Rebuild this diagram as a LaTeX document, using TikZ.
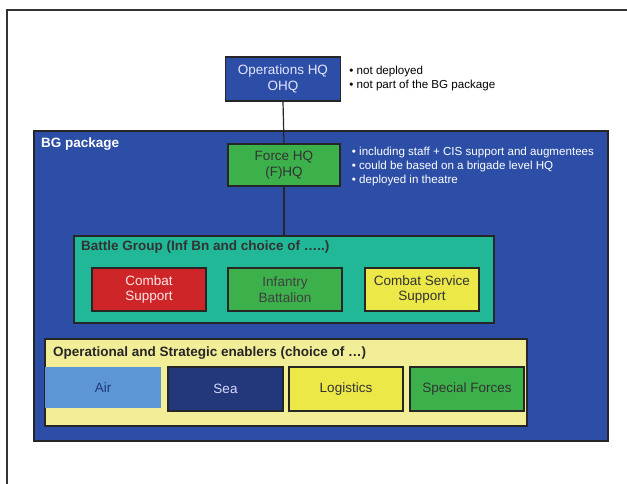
\documentclass[tikz,border=0pt]{standalone}
\usepackage{fontspec}
\setmainfont{Liberation Sans}
\usepackage{xcolor}
\usepackage{tikz}
\usetikzlibrary{positioning}

\definecolor{bgblue}{RGB}{44,78,166}
\definecolor{hqgreen}{RGB}{60,176,74}
\definecolor{bgteal}{RGB}{32,184,150}
\definecolor{csred}{RGB}{206,38,40}
\definecolor{cssyellow}{RGB}{236,232,72}
\definecolor{enyellow}{RGB}{242,238,152}
\definecolor{airblue}{RGB}{92,150,212}
\definecolor{seanavy}{RGB}{34,56,122}

\tikzset{
  unit/.style={draw=black!85,line width=1.4pt,rectangle,align=center,
    font=\fontsize{13.5}{15.5}\selectfont,minimum width=114pt,minimum height=43pt,inner sep=1pt},
  enabler/.style={unit,minimum width=114pt,minimum height=44pt},
  group/.style={draw=black!85,line width=1.4pt,rectangle,inner sep=0pt},
  grouplabel/.style={anchor=west,font=\fontsize{13.5}{15}\selectfont\bfseries,inner sep=0pt},
  note/.style={anchor=north west,align=left,font=\fontsize{11.6}{13.8}\selectfont,inner sep=0pt}
}

\begin{document}
\begin{tikzpicture}[x=1pt,y=-1pt]
	\useasboundingbox (0,0) rectangle (627,484);
	% Rahmen
	\draw[line width=2pt,black!80] (7,484) -- (7,10) -- (627,10);

	% BG package
	\node[group,fill=bgblue,minimum width=574pt,minimum height=310pt] (pkg) at (321,286) {};
	\node[grouplabel,text=white] (pkglabel) at (41,144) {BG package};

	% Operations HQ
	\node[unit,fill=bgblue,text=blue!10,minimum width=115pt,minimum height=44pt] (ohq) at (283,79) {Operations HQ\\OHQ};
	\node[note,right=8pt of ohq.north east,anchor=north west,yshift=-10pt] (ohqnote) {• not deployed\\• not part of the BG package};

	% Force HQ
	\node[unit,fill=hqgreen,text=black!80,minimum width=112pt,minimum height=42pt] (fhq) at (284,165) {Force HQ\\(F)HQ};
	\node[note,text=white,right=11pt of fhq.north east,anchor=north west,yshift=-4pt] (fhqnote) {• including staff + CIS support and augmentees\\• could be based on a brigade level HQ\\• deployed in theatre};

	% Battle Group
	\node[group,fill=bgteal,minimum width=420pt,minimum height=87pt] (bg) at (284,279.5) {};
	\node[grouplabel,text=black!80] (bglabel) at (81,247) {Battle Group (Inf Bn and choice of …..)};
	\node[unit,fill=csred,text=red!10] (cs) at (149,289.5) {Combat\\Support};
	\node[unit,fill=hqgreen,text=black!75] (inf) at (285,289.5) {Infantry\\Battalion};
	\node[unit,fill=cssyellow,text=black!80] (css) at (422,289.5) {Combat Service\\Support};

	% Operational and Strategic enablers
	\node[group,fill=enyellow,minimum width=482pt,minimum height=87pt] (en) at (286,382.5) {};
	\node[grouplabel,text=black!85] (enlabel) at (53,353) {Operational and Strategic enablers (choice of …)};
	\node[enabler,draw=none,fill=airblue,text=seanavy,minimum width=116pt,minimum height=41pt] (air) at (103,387.5) {Air};
	\node[enabler,fill=seanavy,text=blue!15,minimum width=115pt] (sea) at (225.5,389) {Sea};
	\node[enabler,fill=cssyellow,text=black!80] (log) at (346,389) {Logistics};
	\node[enabler,fill=hqgreen,text=black!80] (sf) at (467,389) {Special Forces};

	% Verbindungen
	\draw[line width=1.2pt,black!85] (ohq.south) -- (fhq.north);
	\draw[line width=1.2pt,black!85] (fhq.south) -- (bg.north);
\end{tikzpicture}
\end{document}
